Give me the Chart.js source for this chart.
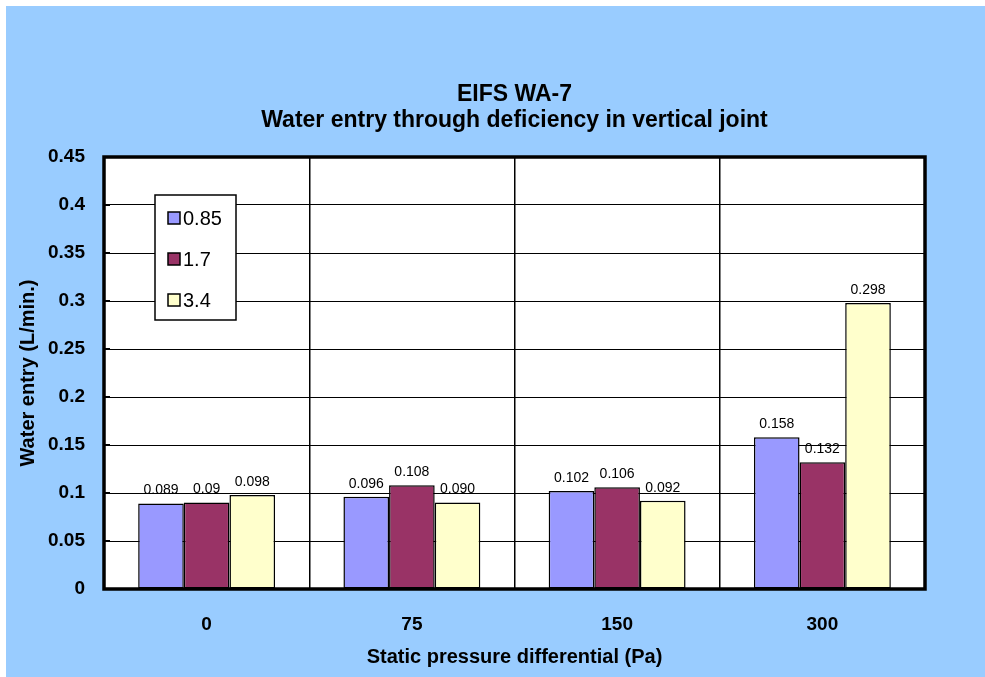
<!DOCTYPE html>
<html>
<head>
<meta charset="utf-8">
<script src="https://cdn.jsdelivr.net/npm/chart.js@4/dist/chart.umd.min.js"></script>
<style>
  html, body { margin: 0; padding: 0; background: #ffffff; }
  #wrap { width: 985px; height: 677px; position: relative; }
</style>
</head>
<body>
<div id="wrap"><canvas id="c" width="985" height="677"></canvas></div>
<script>
// ---- data ----
const categories = ['0', '75', '150', '300'];
const seriesNames = ['0.85', '1.7', '3.4'];
const series085 = [0.089, 0.096, 0.102, 0.158];
const series17 = [0.09, 0.108, 0.106, 0.132];
const series34 = [0.098, 0.090, 0.092, 0.298];
const labels085 = ['0.089', '0.096', '0.102', '0.158'];
const labels17 = ['0.09', '0.108', '0.106', '0.132'];
const labels34 = ['0.098', '0.090', '0.092', '0.298'];
const yTickLabels = ['0', '0.05', '0.1', '0.15', '0.2', '0.25', '0.3', '0.35', '0.4', '0.45'];
const titleLines = ['EIFS WA-7', 'Water entry through deficiency in vertical joint'];
const xTitle = 'Static pressure differential (Pa)';
const yTitle = 'Water entry (L/min.)';

const colors = ['#9999FF', '#993366', '#FFFFCC'];
const FONT = "'Liberation Sans', Arial, sans-serif";

const bgPlugin = {
  id: 'bg',
  beforeDraw(chart) {
    const ctx = chart.ctx;
    ctx.save();
    ctx.fillStyle = '#ffffff';
    ctx.fillRect(0, 0, chart.width, chart.height);
    ctx.fillStyle = '#99CCFF';
    ctx.fillRect(6, 6, chart.width - 6, chart.height - 6);
    const a = chart.chartArea;
    ctx.fillStyle = '#ffffff';
    ctx.fillRect(a.left, a.top, a.right - a.left, a.bottom - a.top);
    ctx.restore();
  }
};

const titlePlugin = {
  id: 'mainTitle',
  afterDraw(chart) {
    const ctx = chart.ctx;
    const a = chart.chartArea;
    const cx = (a.left + a.right) / 2;
    ctx.save();
    ctx.fillStyle = '#000';
    ctx.font = 'bold 23px ' + FONT;
    ctx.textAlign = 'center';
    ctx.textBaseline = 'alphabetic';
    ctx.fillText(titleLines[0], cx, 101);
    ctx.fillText(titleLines[1], cx, 127);
    ctx.restore();
  }
};

const framePlugin = {
  id: 'frame',
  afterDatasetsDraw(chart) {
    const ctx = chart.ctx;
    const a = chart.chartArea;
    const ys = chart.scales.y;
    ctx.save();
    ctx.strokeStyle = '#000';
    ctx.lineWidth = 2;
    ys.ticks.forEach(t => {
      const y = ys.getPixelForValue(t.value);
      ctx.beginPath();
      ctx.moveTo(a.left, y);
      ctx.lineTo(a.left + 6, y);
      ctx.stroke();
    });
    ctx.lineWidth = 3.5;
    ctx.strokeRect(a.left, a.top, a.right - a.left, a.bottom - a.top);
    ctx.restore();
  }
};

const dataLabelPlugin = {
  id: 'dataLabels',
  afterDatasetsDraw(chart) {
    const ctx = chart.ctx;
    const allLabels = [labels085, labels17, labels34];
    ctx.save();
    ctx.fillStyle = '#000';
    ctx.font = '14px ' + FONT;
    ctx.textAlign = 'center';
    ctx.textBaseline = 'middle';
    chart.data.datasets.forEach((ds, di) => {
      const meta = chart.getDatasetMeta(di);
      meta.data.forEach((el, i) => {
        ctx.fillText(allLabels[di][i], el.x, el.y - 13);
      });
    });
    ctx.restore();
  }
};

const legendPlugin = {
  id: 'boxLegend',
  afterDraw(chart) {
    const ctx = chart.ctx;
    ctx.save();
    ctx.fillStyle = '#fff';
    ctx.fillRect(155, 195, 81, 125);
    ctx.strokeStyle = '#000';
    ctx.lineWidth = 1.5;
    ctx.strokeRect(155, 195, 81, 125);
    const rows = [218, 259, 300];
    chart.data.datasets.forEach((ds, i) => {
      ctx.fillStyle = ds.backgroundColor;
      ctx.fillRect(168, rows[i] - 6, 12, 12);
      ctx.lineWidth = 1.5;
      ctx.strokeRect(168, rows[i] - 6, 12, 12);
      ctx.fillStyle = '#000';
      ctx.font = '20px ' + FONT;
      ctx.textAlign = 'left';
      ctx.textBaseline = 'middle';
      ctx.fillText(ds.label, 183, rows[i] + 1);
    });
    ctx.restore();
  }
};

new Chart(document.getElementById('c'), {
  type: 'bar',
  data: {
    labels: categories,
    datasets: [
      { label: seriesNames[0], data: series085, backgroundColor: colors[0] },
      { label: seriesNames[1], data: series17, backgroundColor: colors[1] },
      { label: seriesNames[2], data: series34, backgroundColor: colors[2] }
    ].map(d => Object.assign(d, {
      borderColor: '#000', borderWidth: 1.5, borderSkipped: false,
      categoryPercentage: 0.667, barPercentage: 1.0
    }))
  },
  options: {
    responsive: false,
    animation: false,
    devicePixelRatio: 1,
    layout: { padding: { left: 6, right: 60, top: 157, bottom: 0 } },
    plugins: {
      legend: { display: false },
      title: { display: false },
      tooltip: { enabled: false }
    },
    scales: {
      x: {
        offset: true,
        grid: { offset: true, color: '#000', lineWidth: 1.5, drawTicks: false },
        border: { display: false },
        ticks: { color: '#000', font: { family: FONT, size: 19, weight: 'bold' }, padding: 24, maxRotation: 0 },
        title: { display: true, text: xTitle, color: '#000', font: { family: FONT, size: 20, weight: 'bold' }, padding: { top: 0, bottom: 8 } },
        afterFit(s) { s.height = 88; }
      },
      y: {
        min: 0, max: 0.45,
        grid: { color: '#000', lineWidth: 1, drawTicks: false },
        border: { display: false },
        ticks: {
          stepSize: 0.05, color: '#000', padding: 19,
          font: { family: FONT, size: 19, weight: 'bold' },
          callback: (v, i) => yTickLabels[i]
        },
        title: { display: true, text: yTitle, color: '#000', font: { family: FONT, size: 20, weight: 'bold' }, padding: { top: 10, bottom: 0 } },
        afterFit(s) { s.width = 98; }
      }
    }
  },
  plugins: [bgPlugin, framePlugin, dataLabelPlugin, legendPlugin, titlePlugin]
});
</script>
</body>
</html>
